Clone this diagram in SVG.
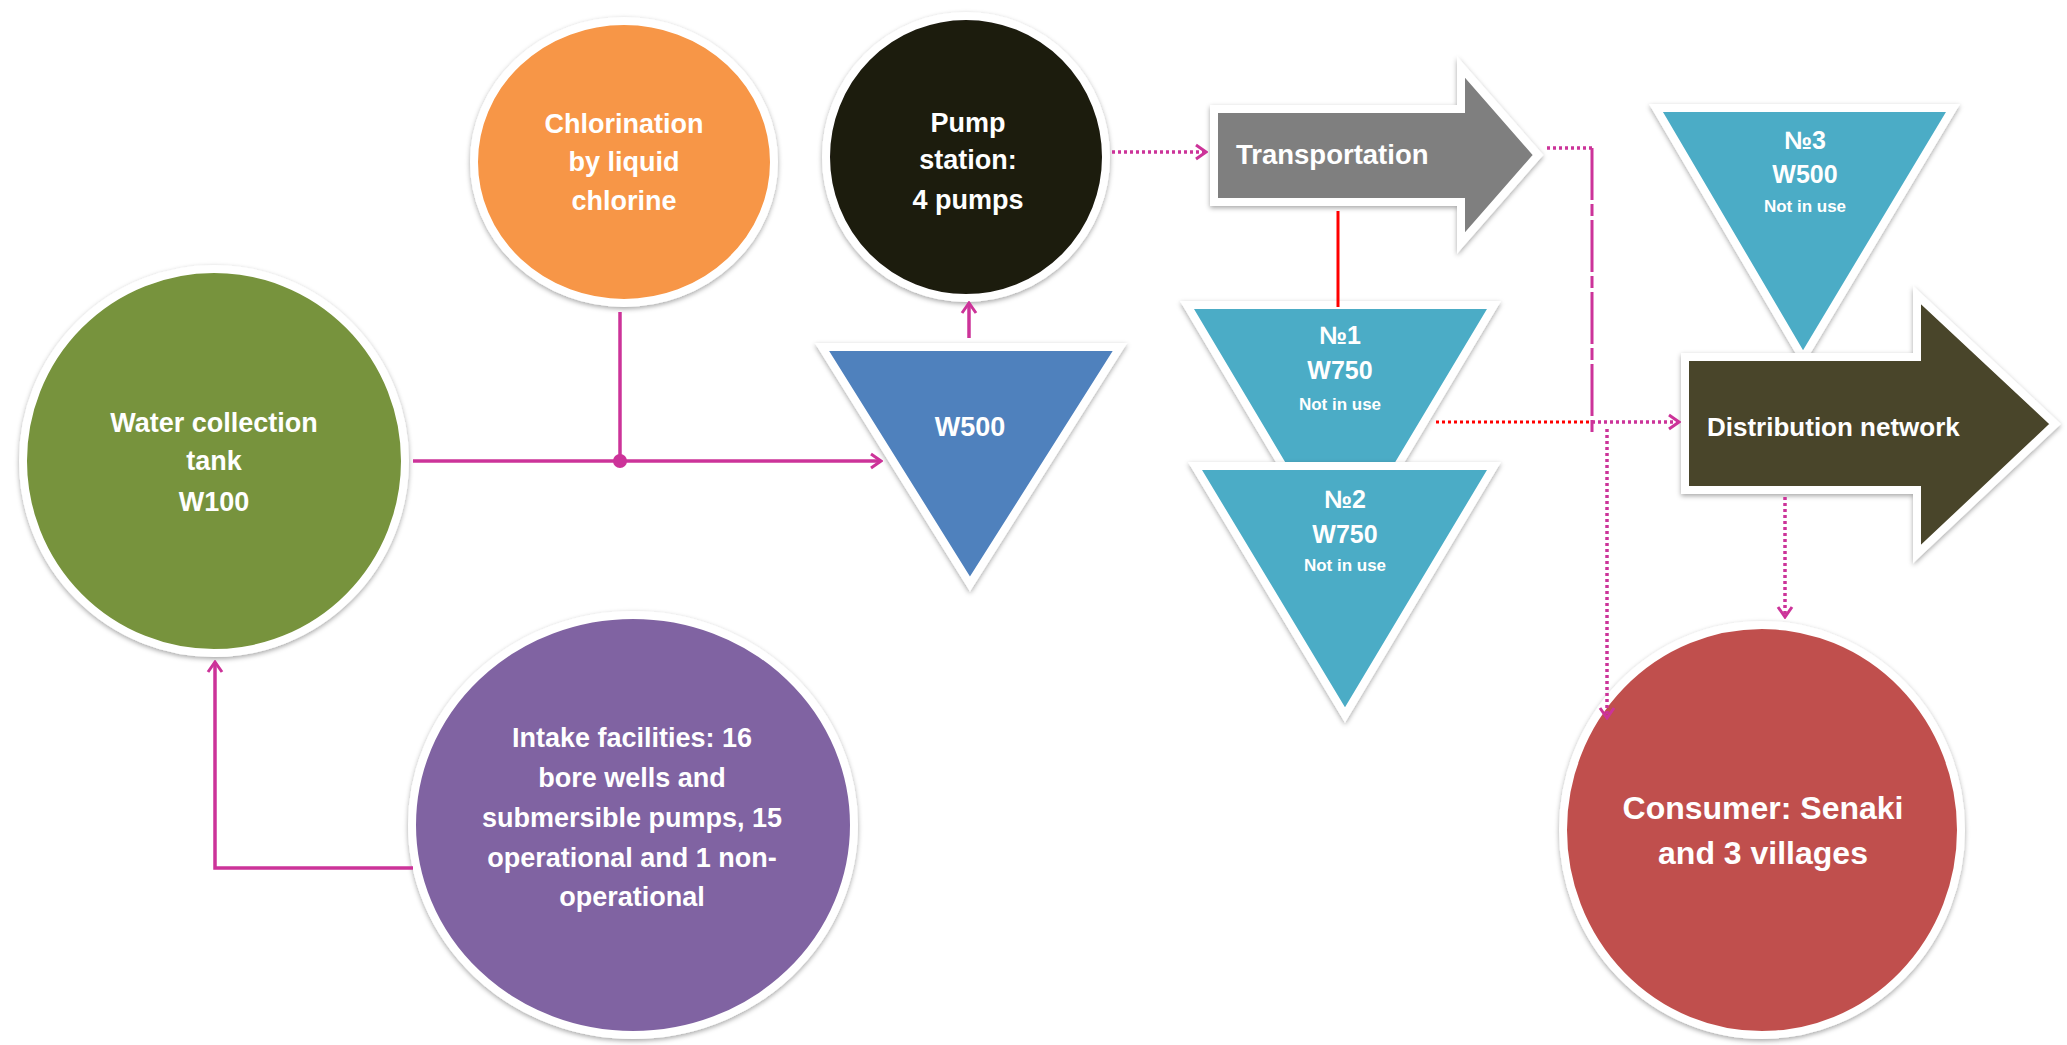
<svg xmlns="http://www.w3.org/2000/svg" width="2067" height="1045" viewBox="0 0 2067 1045">
<defs>
<filter id="sh" x="-10%" y="-10%" width="120%" height="120%">
<feDropShadow dx="0" dy="2" stdDeviation="2.5" flood-color="#000" flood-opacity="0.35"/>
</filter>
<marker id="ah" viewBox="0 0 14 18" refX="12" refY="9" markerWidth="14" markerHeight="18" markerUnits="userSpaceOnUse" orient="auto">
<path d="M2,2 L12,9 L2,16" fill="none" stroke="#cc3399" stroke-width="3"/>
</marker>
</defs>
<style>
.node{stroke:#fff;stroke-width:8;filter:url(#sh)}
.t{font-family:"Liberation Sans","DejaVu Sans",Arial,sans-serif;font-weight:bold;fill:#fff;text-anchor:middle;font-size:27px}
.s{font-size:17px}
.m{font-size:25px}
.solid{fill:none;stroke:#cc3399;stroke-width:3.5}
.dot{fill:none;stroke:#cc3399;stroke-width:3.5;stroke-dasharray:3 3}
.dashdot{fill:none;stroke:#cc3399;stroke-width:3;stroke-dasharray:52 4 12 4}
.red{fill:none;stroke:#ff0000;stroke-width:3}
.reddot{fill:none;stroke:#ff0000;stroke-width:3;stroke-dasharray:3 3}
</style>
<rect width="2067" height="1045" fill="#fff"/>

<g id="water-collection-tank">
<ellipse class="node" cx="214" cy="461" rx="191" ry="192" fill="#77933c"/>
<text class="t" x="214" y="432">Water collection</text>
<text class="t" x="214" y="470">tank</text>
<text class="t" x="214" y="511">W100</text>
</g>

<g id="chlorination">
<ellipse class="node" cx="624" cy="162" rx="150" ry="141" fill="#f79646"/>
<text class="t" x="624" y="133">Chlorination</text>
<text class="t" x="624" y="171">by liquid</text>
<text class="t" x="624" y="210">chlorine</text>
</g>

<g id="pump-station">
<ellipse class="node" cx="966" cy="157" rx="140" ry="141" fill="#1d1b11"/>
<text class="t" x="968" y="132">Pump</text>
<text class="t" x="968" y="169">station:</text>
<text class="t" x="968" y="209">4 pumps</text>
</g>

<g id="w500">
<polygon class="node" points="822,347 1120,347 970,584" fill="#4f81bd"/>
<text class="t" x="970" y="436">W500</text>
</g>

<g id="intake">
<ellipse class="node" cx="633" cy="825" rx="221" ry="210" fill="#8064a2"/>
<text class="t" x="632" y="747">Intake facilities: 16</text>
<text class="t" x="632" y="787">bore wells and</text>
<text class="t" x="632" y="827">submersible pumps, 15</text>
<text class="t" x="632" y="867">operational and 1 non-</text>
<text class="t" x="632" y="906">operational</text>
</g>

<g id="transportation">
<path class="node" d="M1214,109 H1461 V67 L1538,155 L1461,243 V202 H1214 Z" fill="#7f7f7f"/>
<text class="t" x="1236" y="164" style="text-anchor:start;font-size:27.5px">Transportation</text>
</g>

<g id="tank-3">
<polygon class="node" points="1656,108 1953,108 1803,358" fill="#4bacc6"/>
<text class="t m" x="1805" y="149">№3</text>
<text class="t m" x="1805" y="183">W500</text>
<text class="t s" x="1805" y="212">Not in use</text>
</g>

<g id="tank-1">
<polygon class="node" points="1187,305 1494,305 1340,562" fill="#4bacc6"/>
<text class="t m" x="1340" y="344">№1</text>
<text class="t m" x="1340" y="379">W750</text>
<text class="t s" x="1340" y="410">Not in use</text>
</g>

<g id="tank-2">
<polygon class="node" points="1195,466 1494,466 1345,715" fill="#4bacc6"/>
<text class="t m" x="1345" y="508">№2</text>
<text class="t m" x="1345" y="543">W750</text>
<text class="t s" x="1345" y="571">Not in use</text>
</g>

<g id="distribution-network">
<path class="node" d="M1685,357 H1917 V295 L2055,424 L1917,554 V490 H1685 Z" fill="#494429"/>
<text class="t" x="1707" y="436" style="text-anchor:start;font-size:26px">Distribution network</text>
</g>

<g id="consumer">
<ellipse class="node" cx="1762" cy="830" rx="199" ry="205" fill="#c0504d"/>
<text class="t" x="1763" y="819" style="font-size:32px">Consumer: Senaki</text>
<text class="t" x="1763" y="864" style="font-size:32px">and 3 villages</text>
</g>

<g id="connectors">
<path class="solid" d="M413,461 H881" marker-end="url(#ah)"/>
<path class="solid" d="M620,312 V461"/>
<circle cx="620" cy="461" r="7" fill="#cc3399"/>
<path class="solid" d="M969,338 V303" marker-end="url(#ah)"/>
<path class="solid" d="M413,868 H215 V662" marker-end="url(#ah)"/>
<path class="dot" d="M1112,152 H1206" marker-end="url(#ah)"/>
<path class="dot" d="M1547,148 H1592"/>
<path class="dashdot" d="M1592,148 V435"/>
<path class="reddot" d="M1436,422 H1592"/>
<path class="dot" d="M1592,422 H1679" marker-end="url(#ah)"/>
<path class="dot" d="M1607,429 V718" marker-end="url(#ah)"/>
<path class="dot" d="M1785,497 V617" marker-end="url(#ah)"/>
<path class="red" d="M1338,211 V307"/>
</g>
</svg>
